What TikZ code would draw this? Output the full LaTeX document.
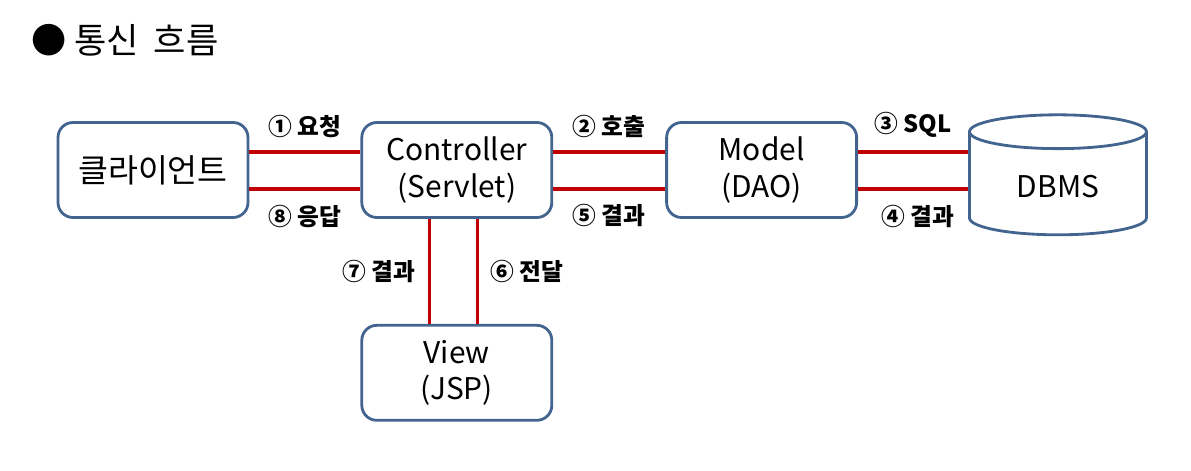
\documentclass[tikz,border=0pt]{standalone}
\usepackage{fontspec}
\setmainfont{Noto Sans CJK KR}
\usetikzlibrary{positioning, shapes.geometric}
\definecolor{boxblue}{RGB}{66,100,142}
\definecolor{linkred}{RGB}{192,0,0}

\begin{document}
\begin{tikzpicture}[
     node distance = 21mm and 22.2mm,
        box/.style = {rectangle, draw=boxblue, line width=1.6pt, rounded corners=3mm,
                      minimum width=38mm, minimum height=19mm, align=center,
                      font=\fontsize{17}{21}\selectfont},
         db/.style = {cylinder, shape border rotate=90, draw=boxblue, line width=1.6pt,
                      aspect=0.36, minimum width=35.4mm, minimum height=24mm,
                      font=\fontsize{17}{21}\selectfont},
       link/.style = {draw=linkred, line width=1.8pt},
        lbl/.style = {font=\bfseries\fontsize{13.5}{15}\selectfont, inner sep=1pt}
                        ]
\useasboundingbox (0,0) rectangle (23.82,-9.42);
\node (title)[anchor=west, font=\fontsize{20}{24}\selectfont] at (0.5,-0.8) {● 통신\hspace{0.2em} 흐름};
% boxes
\node (cli)  [box, font=\fontsize{18.5}{22}\selectfont] at (3.06,-3.40) {클라이언트};
\node (ctrl) [box, right =of cli] {Controller\\(Servlet)};
\node (model)[box, right =22.4mm of ctrl] {Model\\(DAO)};
\node (dbms) [db, right =22mm of model, yshift=-3.4mm] {DBMS};
\node (view) [box, below =of ctrl] {View\\(JSP)};
% connectors
\draw[link] ([yshift=3.6mm]cli.east) -- ([yshift=3.6mm]ctrl.west)
    node[lbl, midway, above=2.2mm] (l1) {① 요청};
\draw[link] ([yshift=-3.8mm]cli.east) -- ([yshift=-3.8mm]ctrl.west)
    node[lbl, midway, below=2.5mm] (l8) {⑧ 응답};
\draw[link] ([yshift=3.6mm]ctrl.east) -- ([yshift=3.6mm]model.west)
    node[lbl, midway, above=2.2mm] (l2) {② 호출};
\draw[link] ([yshift=-3.8mm]ctrl.east) -- ([yshift=-3.8mm]model.west)
    node[lbl, midway, below=2.4mm] (l5) {⑤ 결과};
\draw[link] ([yshift=3.6mm]model.east) -- ([yshift=3.6mm]model.east -| dbms.west)
    node[lbl, midway, above=2.2mm] (l3) {③ SQL};
\draw[link] ([yshift=-3.8mm]model.east) -- ([yshift=-3.8mm]model.east -| dbms.west)
    node[lbl, midway, below=2.5mm, xshift=1mm] (l4) {④ 결과};
\draw[link] ([xshift=-5.4mm]ctrl.south) -- ([xshift=-5.4mm]ctrl.south |- view.north)
    node[lbl, midway, left=2.2mm] (l7) {⑦ 결과};
\draw[link] ([xshift=4.2mm]ctrl.south) -- ([xshift=4.2mm]ctrl.south |- view.north)
    node[lbl, midway, right=1.8mm] (l6) {⑥ 전달};
\end{tikzpicture}
\end{document}
